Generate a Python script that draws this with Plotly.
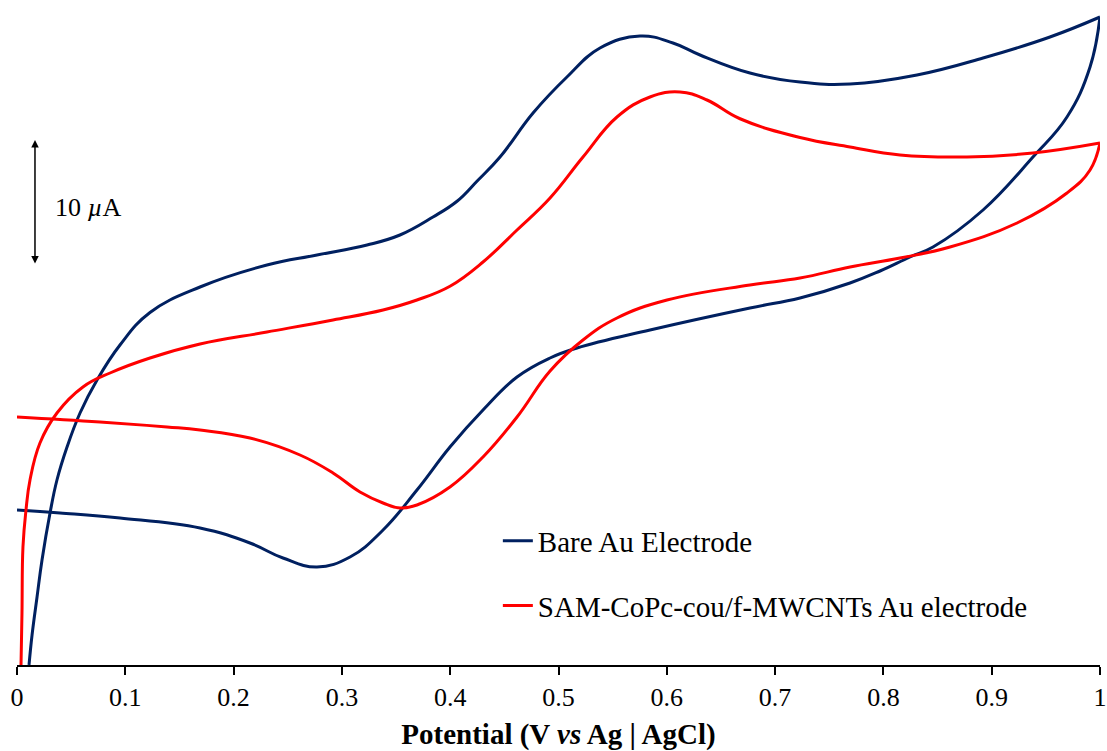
import plotly.graph_objects as go

# Potential (V vs Ag|AgCl) and current (µA)
bare_fwd_E = [0.0, 0.0397, 0.0951, 0.169, 0.2151, 0.2456, 0.277, 0.3075, 0.338, 0.3693,
              0.3998, 0.4303, 0.4617, 0.4922, 0.5171, 0.5845, 0.6768, 0.723, 0.7692,
              0.7969, 0.8246, 0.8458, 0.892, 0.9381, 0.9695, 0.9908, 1.0]
bare_fwd_I = [-8.8, -9.04, -9.44, -10.24, -11.44, -12.64, -13.36, -12.56, -10.4, -7.2,
              -3.76, -0.8, 1.84, 3.36, 4.16, 5.6, 7.36, 8.16, 9.36,
              10.32, 11.44, 12.24, 15.2, 19.44, 22.64, 26.64, 30.64]
bare_rev_E = [1.0, 0.9538, 0.892, 0.831, 0.7692, 0.723, 0.6768, 0.6307, 0.6057, 0.5753,
              0.5383, 0.5078, 0.4765, 0.446, 0.4247, 0.4063, 0.3841, 0.3536, 0.3232,
              0.277, 0.2308, 0.169, 0.1228, 0.0951, 0.0739, 0.0582, 0.0462, 0.0369,
              0.0305, 0.0231, 0.0185, 0.0139, 0.0111]
bare_rev_I = [30.64, 29.04, 27.36, 26.0, 25.28, 25.44, 26.16, 27.6, 28.56, 29.12,
              28.16, 25.84, 22.96, 19.44, 17.5, 15.9, 14.64, 13.2, 12.4,
              11.6, 10.8, 9.04, 7.0, 4.4, 1.6, -1.04, -3.76, -6.4,
              -9.04, -12.8, -15.76, -18.8, -21.2]

sam_fwd_E = [0.0, 0.0766, 0.1385, 0.169, 0.2151, 0.2613, 0.2918, 0.3167, 0.338, 0.3536,
             0.3693, 0.3998, 0.4303, 0.4617, 0.4922, 0.5226, 0.554, 0.6002, 0.6768,
             0.723, 0.7692, 0.8153, 0.8615, 0.9234, 0.9695, 0.9908, 1.0]
sam_fwd_I = [-1.36, -1.76, -2.16, -2.4, -3.04, -4.4, -5.84, -7.36, -8.24, -8.64,
             -8.4, -6.96, -4.56, -1.36, 2.32, 4.8, 6.56, 8.0, 9.2,
             9.76, 10.64, 11.36, 12.24, 14.16, 16.56, 18.4, 20.56]
sam_rev_E = [1.0, 0.9381, 0.8772, 0.8153, 0.7692, 0.723, 0.6676, 0.6371, 0.6122, 0.5845,
             0.554, 0.5226, 0.4922, 0.4617, 0.4303, 0.3998, 0.3693, 0.338, 0.2918,
             0.2308, 0.169, 0.1228, 0.0859, 0.0609, 0.0369, 0.0212, 0.012, 0.0083,
             0.0055, 0.0046, 0.0037]
sam_rev_I = [20.56, 19.76, 19.44, 19.6, 20.24, 21.0, 22.5, 24.0, 24.64, 24.24,
             22.64, 19.44, 16.16, 13.6, 11.04, 9.1, 8.0, 7.2, 6.4,
             5.44, 4.48, 3.36, 2.16, 1.04, -1.04, -3.44, -6.4, -8.8,
             -11.76, -17.04, -21.2]

tick_vals = [0, 0.1, 0.2, 0.3, 0.4, 0.5, 0.6, 0.7, 0.8, 0.9, 1.0]
tick_text = ["0", "0.1", "0.2", "0.3", "0.4", "0.5", "0.6", "0.7", "0.8", "0.9", "1"]

BLUE = "#002060"
RED = "#FF0000"
FONT = "Liberation Serif"
SMOOTH = 1.2

fig = go.Figure()
fig.add_trace(go.Scatter(x=bare_fwd_E, y=bare_fwd_I, mode="lines", name="Bare Au Electrode",
                         legendgroup="bare", line=dict(color=BLUE, width=3, shape="spline", smoothing=SMOOTH)))
fig.add_trace(go.Scatter(x=bare_rev_E, y=bare_rev_I, mode="lines", name="Bare Au Electrode",
                         legendgroup="bare", showlegend=False,
                         line=dict(color=BLUE, width=3, shape="spline", smoothing=SMOOTH)))
fig.add_trace(go.Scatter(x=sam_fwd_E, y=sam_fwd_I, mode="lines", name="SAM-CoPc-cou/f-MWCNTs Au electrode",
                         legendgroup="sam", line=dict(color=RED, width=3, shape="spline", smoothing=SMOOTH)))
fig.add_trace(go.Scatter(x=sam_rev_E, y=sam_rev_I, mode="lines", name="SAM-CoPc-cou/f-MWCNTs Au electrode",
                         legendgroup="sam", showlegend=False,
                         line=dict(color=RED, width=3, shape="spline", smoothing=SMOOTH)))

# 10 µA scale bar
fig.add_annotation(x=0.0166, y=20.8, ax=0.0166, ay=10.8, xref="x", yref="y", axref="x", ayref="y",
                   showarrow=True, arrowside="end+start", arrowhead=2, arrowsize=1, arrowwidth=1.5,
                   arrowcolor="black", text="")
fig.add_annotation(x=0.0332, y=15.44, xref="x", yref="y", text="10 <i>µ</i>A", showarrow=False,
                   xanchor="left", yanchor="middle", font=dict(family=FONT, size=26, color="black"))

fig.update_layout(
    width=1107, height=751,
    margin=dict(l=17, r=7, t=0, b=86),
    paper_bgcolor="white", plot_bgcolor="white",
    font=dict(family=FONT, size=26, color="black"),
    showlegend=True,
    legend=dict(x=0.444, y=0.225, xanchor="left", yanchor="top", bgcolor="rgba(0,0,0,0)",
                font=dict(family=FONT, size=29, color="black"), tracegroupgap=24,
                itemwidth=30),
    xaxis=dict(range=[0, 1], tickvals=tick_vals, ticktext=tick_text, showgrid=False, zeroline=False,
               showline=True, linecolor="black", linewidth=1.5, ticks="outside", ticklen=8,
               tickwidth=1.5, tickcolor="black", tickfont=dict(family=FONT, size=26),
               title=dict(text="<b>Potential (V <i>vs</i> Ag | AgCl)</b>",
                          font=dict(family=FONT, size=29), standoff=14)),
    yaxis=dict(range=[-21.2, 32], showgrid=False, zeroline=False, showline=False,
               showticklabels=False, ticks=""),
)

fig.write_html("out.html")
